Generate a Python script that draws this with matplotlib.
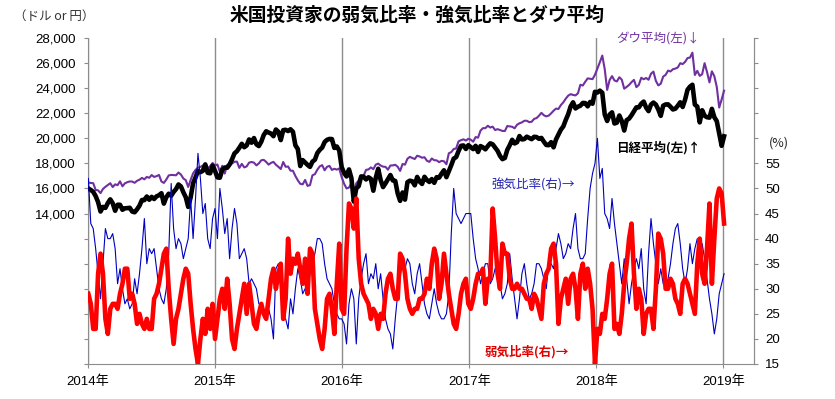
import matplotlib
matplotlib.use("Agg")
import matplotlib.pyplot as plt
import pandas as pd
from datetime import datetime
from matplotlib.ticker import FixedLocator, FuncFormatter

plt.rcParams['font.family'] = ['Liberation Sans', 'Noto Sans CJK JP', 'DejaVu Sans']

# ---------------- data (weekly, starting 2014-01-02) ----------------
start_date = "2014-01-02"

dow_2014 = [16470, 16440, 16420, 15880, 15850, 15630, 15960, 16130, 16270, 16420, 16110, 16330, 16260,
            16570, 16170, 16410, 16500, 16560, 16550, 16450, 16610, 16700, 16840, 16730, 16920, 16850,
            17070, 16920, 16980, 17080, 16560, 16440, 16710, 17040, 17080, 17070, 17050, 17270, 17110,
            16800, 16660, 16120, 16680, 17200, 17480, 17650, 17720, 17830, 17900, 17600, 17780, 18030]
dow_2015 = [17830, 17910, 17320, 17810, 17190, 17880, 17970, 17990, 18130, 18140, 17640, 17960, 17680,
            17760, 18060, 18110, 18060, 17840, 18000, 18250, 18280, 18120, 17900, 18040, 18120, 17890,
            17730, 17550, 18110, 17730, 17750, 17420, 17410, 16990, 16650, 16370, 16330, 16680, 16200,
            16270, 17050, 17140, 17490, 17760, 17860, 17450, 17730, 17800, 17480, 17570, 17500, 17600]
dow_2016 = [16900, 16380, 16000, 16070, 16420, 15660, 16410, 16640, 17010, 17000, 17480, 17520, 17680,
            17540, 17900, 17980, 17830, 17740, 17720, 17500, 17830, 17840, 17890, 17730, 17400, 17950,
            17900, 18370, 18520, 18430, 18350, 18610, 18550, 18450, 18490, 18210, 18120, 18390, 18250,
            18240, 18100, 18200, 18170, 17930, 18810, 18900, 19150, 19190, 19760, 19850, 19920, 19820]
dow_2017 = [19960, 19890, 19730, 20100, 20050, 20610, 20810, 20810, 21000, 20860, 20930, 20660, 20730,
            20660, 20590, 20580, 20980, 20950, 20920, 20800, 21080, 21200, 21270, 21400, 21400, 21290,
            21320, 21550, 21610, 21800, 22030, 21840, 21750, 21810, 21990, 22200, 22370, 22340, 22650,
            22870, 23160, 23400, 23520, 23460, 23420, 23590, 24270, 24210, 24510, 24780, 24750, 24720]
dow_2018 = [25070, 25570, 26070, 26600, 25520, 23860, 24640, 24960, 24610, 24540, 24870, 24680, 23960,
            24100, 24260, 24480, 24660, 24080, 24260, 24830, 24710, 24810, 24670, 25150, 25320, 24580,
            24220, 24350, 24920, 25060, 25400, 25330, 25510, 25560, 25650, 25990, 25920, 26100, 26400,
            26440, 26830, 25050, 25380, 24980, 25110, 25990, 25290, 24460, 25340, 24950, 24100, 22450]
dow_tail = [23100, 23800]

nikkei_2014 = [16000, 15880, 15730, 15390, 14910, 14160, 14530, 14450, 14840, 15130, 14820, 14220, 14700,
               14700, 14300, 14420, 14430, 14460, 14160, 14100, 14340, 14630, 15080, 15070, 15360, 15100,
               15330, 15160, 15370, 15460, 15620, 14790, 15300, 15580, 15420, 15720, 15950, 16320, 16160,
               15700, 15300, 14530, 15290, 16410, 16880, 17390, 17300, 17410, 17920, 17250, 17210, 17820]
nikkei_2015 = [17400, 16880, 16860, 17510, 17670, 17650, 17910, 18330, 18800, 18970, 19250, 19560, 19290,
               19430, 19910, 19650, 20020, 19520, 19380, 19730, 20260, 20560, 20460, 20380, 20170, 20700,
               20520, 19860, 20650, 20680, 20580, 20720, 20520, 19440, 19140, 17790, 18260, 18070, 17880,
               17720, 18140, 18290, 18820, 19080, 19260, 19700, 19880, 19950, 19940, 19230, 19350, 19030]
nikkei_2016 = [17700, 17240, 16960, 17520, 16820, 14950, 16000, 16190, 16960, 16940, 16720, 16890, 16760,
               15820, 16850, 17570, 16670, 16110, 16410, 16740, 17070, 16640, 16600, 15600, 15010, 15680,
               15110, 16500, 16620, 16570, 16250, 16920, 16550, 16360, 16930, 16670, 16520, 16750, 16450,
               16900, 16860, 17180, 17450, 16900, 17370, 17860, 18380, 18500, 18990, 19400, 19430, 19150]
nikkei_2017 = [19450, 19290, 19140, 19400, 18910, 19380, 19280, 19120, 19380, 19600, 19520, 19260, 19000,
               18600, 18340, 18430, 19080, 19450, 19880, 19590, 19690, 20180, 19910, 19940, 20130, 20030,
               19930, 20120, 20100, 19960, 20030, 19730, 19470, 19450, 19690, 19280, 19910, 20300, 20690,
               20950, 21460, 21920, 22540, 22870, 22380, 22520, 22600, 22820, 22810, 22550, 22900, 22760]
nikkei_2018 = [23710, 23650, 23800, 23630, 21900, 21380, 21890, 22070, 21180, 21250, 21820, 21380, 20620,
               21450, 21570, 21840, 22160, 22470, 22470, 22760, 22930, 22450, 22170, 22690, 22850, 22690,
               22300, 21790, 22600, 22700, 22710, 22520, 22300, 22360, 22600, 22870, 22500, 23090, 23870,
               24120, 24270, 22690, 22530, 21270, 22240, 21800, 21680, 21650, 22350, 21680, 21370, 20390]
nikkei_tail = [19400, 20160]

bull_2014 = [52, 43, 42, 38, 33, 28, 35, 42, 40, 40, 41, 38, 31, 34, 30, 27, 28, 26, 27, 32, 29, 33, 38, 44,
             35, 38, 37, 38, 34, 30, 28, 27, 30, 37, 51, 42, 38, 40, 39, 36, 38, 40, 48, 40, 48, 57, 52, 45,
             47, 40, 38, 44]
bull_2015 = [46, 40, 50, 46, 41, 44, 36, 42, 46, 43, 36, 37, 38, 36, 31, 32, 31, 30, 27, 27, 25, 25, 26, 24,
             20, 34, 35, 30, 24, 24, 22, 28, 25, 30, 34, 32, 29, 30, 31, 33, 35, 37, 40, 40, 39, 35, 32, 31,
             30, 27, 25, 24]
bull_2016 = [24, 23, 19, 27, 30, 28, 19, 28, 32, 35, 37, 31, 33, 32, 35, 30, 33, 28, 24, 22, 21, 18, 24, 29,
             32, 36, 34, 36, 35, 31, 29, 33, 35, 31, 27, 25, 24, 27, 30, 27, 25, 24, 24, 25, 29, 41, 50, 45,
             44, 43, 44, 45]
bull_2017 = [45, 45, 40, 36, 34, 31, 33, 35, 35, 31, 32, 34, 35, 31, 28, 29, 31, 37, 32, 28, 24, 28, 33, 35,
             31, 28, 29, 31, 35, 35, 34, 32, 30, 35, 35, 34, 38, 41, 39, 36, 37, 39, 38, 42, 45, 38, 36, 36,
             37, 44, 50, 53]
bull_2018 = [55, 60, 52, 54, 45, 44, 42, 48, 43, 39, 35, 31, 36, 32, 27, 31, 34, 36, 34, 38, 30, 27, 37, 44,
             39, 35, 31, 34, 31, 30, 32, 35, 39, 42, 43, 39, 34, 31, 34, 39, 35, 38, 40, 35, 39, 36, 32, 28,
             25, 21, 24, 29]
bull_tail = [31, 33]

bear_2014 = [29, 27, 22, 22, 33, 37, 33, 24, 21, 26, 27, 27, 26, 29, 31, 34, 34, 28, 29, 27, 23, 25, 23, 22,
             24, 22, 22, 28, 29, 31, 34, 37, 38, 30, 24, 19, 24, 26, 29, 32, 34, 33, 27, 22, 18, 15, 20, 24,
             21, 26, 22, 27]
bear_2015 = [20, 24, 28, 30, 26, 32, 27, 20, 18, 22, 25, 28, 31, 25, 31, 27, 23, 22, 25, 27, 25, 24, 28, 32,
             34, 30, 33, 35, 24, 28, 40, 33, 36, 35, 37, 34, 31, 36, 29, 38, 37, 26, 23, 20, 18, 22, 28, 29,
             26, 21, 31, 39]
bear_2016 = [26, 25, 38, 47, 46, 42, 48, 36, 31, 29, 28, 27, 24, 26, 25, 22, 25, 24, 29, 32, 33, 30, 28, 28,
             37, 36, 33, 28, 26, 25, 26, 26, 28, 28, 29, 32, 30, 35, 38, 36, 28, 31, 37, 33, 29, 26, 23, 22,
             25, 29, 31, 32]
bear_2017 = [27, 26, 28, 31, 33, 33, 34, 27, 32, 32, 46, 40, 33, 30, 39, 37, 37, 32, 30, 30, 31, 30, 30, 29,
             28, 28, 26, 29, 28, 26, 24, 31, 33, 34, 38, 39, 35, 23, 28, 30, 32, 27, 32, 33, 30, 24, 33, 35,
             30, 34, 31, 26]
bear_2018 = [15, 22, 21, 25, 24, 28, 33, 35, 22, 23, 21, 25, 31, 35, 40, 43, 33, 26, 30, 28, 21, 25, 26, 26,
             22, 30, 41, 40, 37, 30, 30, 32, 31, 28, 27, 25, 31, 32, 31, 29, 27, 25, 35, 40, 33, 31, 38, 47,
             31, 40, 48, 50]
bear_tail = [49, 43]

dow = dow_2014 + dow_2015 + dow_2016 + dow_2017 + dow_2018 + dow_tail
nikkei = nikkei_2014 + nikkei_2015 + nikkei_2016 + nikkei_2017 + nikkei_2018 + nikkei_tail
bull = bull_2014 + bull_2015 + bull_2016 + bull_2017 + bull_2018 + bull_tail
bear = bear_2014 + bear_2015 + bear_2016 + bear_2017 + bear_2018 + bear_tail

dates = pd.date_range(start_date, periods=len(dow), freq="7D")

years = [2014, 2015, 2016, 2017, 2018, 2019]
year_labels = [f"{y}年" for y in years]
left_ticks = list(range(2000, 28001, 2000))
right_ticks = list(range(15, 81, 5))

title = "米国投資家の弱気比率・強気比率とダウ平均"

# ---------------- figure ----------------
W, H = 835, 399
fig = plt.figure(figsize=(W / 100, H / 100), dpi=100)
L, R, T, B = 88, 754, 38, 364
ax = fig.add_axes([L / W, 1 - B / H, (R - L) / W, (B - T) / H])

gray = "#8c8c8c"
ax.plot(dates, dow, color="#7030A0", lw=1.5, zorder=3)
ax.plot(dates, nikkei, color="black", lw=3.3, zorder=4, solid_joinstyle="round")
ax.set_ylim(2000, 28000)
ax.set_xlim(datetime(2014, 1, 1), datetime(2019, 3, 30))

ax.set_xticks([datetime(y, 1, 1) for y in years])
ax.set_xticklabels(year_labels, fontsize=9.5)
ax.xaxis.grid(True, color=gray, lw=1.0)
ax.set_axisbelow(True)

ax.yaxis.set_major_locator(FixedLocator(left_ticks))
ax.yaxis.set_major_formatter(FuncFormatter(lambda v, p: f"{int(v):,}" if v >= 14000 else ""))
ax.tick_params(axis="y", labelsize=9.5, length=3, color=gray, pad=6)
ax.tick_params(axis="x", length=3, color=gray, pad=5)

for s in ["top"]:
    ax.spines[s].set_visible(False)
for s in ["left", "bottom", "right"]:
    ax.spines[s].set_color(gray)

ax2 = ax.twinx()
ax2.plot(dates, bull, color="#0000C0", lw=0.8, zorder=3)
ax2.plot(dates, bear, color="#FF0000", lw=3.3, zorder=4, solid_joinstyle="round")
ax2.set_ylim(15, 80)
ax2.yaxis.set_major_locator(FixedLocator(right_ticks))
ax2.yaxis.set_major_formatter(FuncFormatter(lambda v, p: f"{int(v)}" if v <= 55 else ""))
ax2.tick_params(axis="y", labelsize=9.5, length=3, color=gray, pad=5)
for s in ["top", "left", "bottom"]:
    ax2.spines[s].set_visible(False)
ax2.spines["right"].set_color(gray)


def px(x, y):
    return x / W, 1 - y / H


fig.text(*px(417, 15), title, ha="center", va="center", fontsize=13.5, fontweight="bold",
         family=["Noto Sans CJK JP", "DejaVu Sans"])
fig.text(*px(14, 16), "（ドル or 円）", ha="left", va="center", fontsize=9, color="#333333",
         family=["Noto Sans CJK JP", "DejaVu Sans"])
fig.text(*px(658, 38), "ダウ平均(左)↓", ha="center", va="center", fontsize=9, color="#7030A0",
         family=["Noto Sans CJK JP", "DejaVu Sans"])
fig.text(*px(658, 148), "日経平均(左)↑", ha="center", va="center", fontsize=9, color="black",
         fontweight="bold", family=["Noto Sans CJK JP", "DejaVu Sans"])
fig.text(*px(533, 185), "強気比率(右)→", ha="center", va="center", fontsize=9, color="#2020B0",
         family=["Noto Sans CJK JP", "DejaVu Sans"])
fig.text(*px(527, 352), "弱気比率(右)→", ha="center", va="center", fontsize=9, color="#E00000",
         fontweight="bold", family=["Noto Sans CJK JP", "DejaVu Sans"])
fig.text(*px(779, 143), "(%)", ha="center", va="center", fontsize=9, color="#222222",
         family=["Noto Sans CJK JP", "DejaVu Sans"])

fig.savefig("out.png", dpi=100)
